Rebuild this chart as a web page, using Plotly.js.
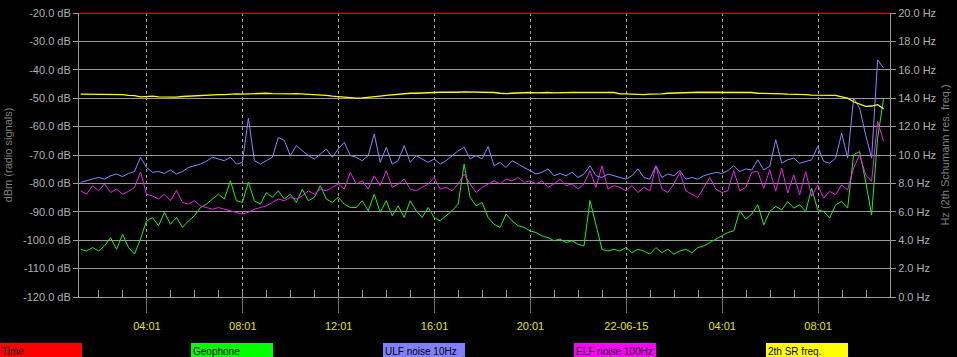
<!DOCTYPE html>
<html>
<head>
<meta charset="utf-8">
<script src="https://cdn.plot.ly/plotly-3.0.1.min.js"></script>
<style>
  html, body { margin: 0; padding: 0; background: #000; }
  #chart { width: 957px; height: 357px; }
</style>
</head>
<body>
<div id="chart"></div>
<script>
// ---------------- DATA ----------------
// Samples every 15 minutes starting 2015-06-21 01:15
const sampleStart = '2015-06-21T01:15:00Z';
const sampleStepMinutes = 15;

// Geophone (dBm)
const geophone = [
  -103.2, -103.8, -102.6, -103.8, -102, -99.1, -103.2, -97.9, -102.6, -104.9, -99.6, -93.2, -92, -94.9, -90.2, -94.4, -92, -95.5, -93.2, -91.4, -88.5, -87.3, -85.5,
  -83.8, -85.5, -79.1, -86.1, -86.7, -79.6, -86.1, -87.3, -83.2, -84.9, -82.6, -85.5, -83.8, -86.7, -82, -86.1, -84.9, -80.8, -85.5, -86.7, -84.9, -87.3, -88.5,
  -88.5, -86.1, -89.6, -83.8, -90.2, -86.1, -91.4, -87.9, -92, -86.1, -89.6, -92, -88.5, -92, -93.2, -91.4, -89.6, -87.3, -73.2, -84.9, -87.9, -86.7,
  -92, -94.4, -95.5, -90.8, -93.2, -94.9, -95.5, -96.7, -97.3, -98.5, -99.1, -100.2, -99.6, -100.8, -100.2, -101.4, -102, -86, -95, -103.2, -103.8, -103.2,
  -103.8, -102.6, -104.4, -103.2, -103.8, -104.9, -102.6, -104.4, -103.2, -104.9, -103.8, -103.2, -104.4, -102.6, -102, -100.8, -99.6, -98.5, -97.3, -96.7, -89.6, -92.6, -90.8,
  -87.5, -94.6, -89.9, -88.1, -89.3, -86.4, -88.7, -87.5, -89.9, -81.7, -89.3, -89.9, -92.2, -87.5, -86.4, -88.7, -69.9, -68.8, -79.3, -91.1, -64.1, -50
];

// ULF noise 10Hz (dBm)
const ulfNoise = [
  -79.6, -79.1, -78.5, -77.9, -78.5, -77.3, -76.7, -77.6, -76.5, -75.8, -70.8, -74.4, -76.1, -75.8, -76.5, -75.3, -76.7, -75.8, -74.4, -73.8, -73.2, -72.2, -70.8,
  -71.4, -72, -70.8, -73.2, -72.6, -57, -72, -73.2, -72, -70.8, -63.8, -64.9, -70.2, -66.7, -68.5, -70.2, -71.4, -69.6, -67.9, -70.8, -67.9, -65.5, -70.2,
  -70.8, -72, -70.2, -62.6, -72.6, -67.3, -73.2, -72, -66.7, -72.6, -70.2, -71.4, -72.6, -71.4, -73.2, -72, -70.2, -68.5, -67.3, -71.4, -70.2, -71.4,
  -67, -73.8, -72.6, -74.4, -72, -73.2, -74.4, -75.5, -76.7, -76.1, -74.9, -77.3, -76.5, -77.3, -76.1, -77.9, -76.7, -73.8, -77.3, -77.9, -76.7, -77.3,
  -77.9, -78.5, -77.3, -74.9, -77.9, -78.5, -73.8, -77.9, -76.7, -77.3, -75.5, -78.5, -77.9, -78.5, -77.3, -76.7, -76.1, -76.5, -75.5, -73.8, -75.8, -74.9, -75.3,
  -71.7, -75.2, -74, -64.6, -72.9, -71.7, -71.1, -72.9, -72.3, -71.7, -67, -72.3, -72.9, -71.1, -62.3, -71.1, -50, -53.5, -62.9, -71.1, -36.5, -39.4
];

// ELF noise 100Hz (dBm)
const elfNoise = [
  -82.6, -83.8, -80.8, -82.6, -80.2, -83.2, -82, -83.8, -82.8, -81.4, -76, -83.8, -84.4, -85.5, -83.8, -86.1, -82.4, -86.7, -87.3, -86.1, -87.9, -88.5, -89.1,
  -88.5, -89.1, -89.6, -90.2, -90.8, -90.2, -89.1, -88.5, -87.9, -86.7, -85.5, -86.1, -84.9, -85.5, -84.4, -82.6, -83.8, -82, -82.6, -81.4, -80.2, -82, -76.1,
  -80.2, -79.1, -82, -77.3, -80.8, -75.5, -81.4, -80.2, -78.5, -82, -82.6, -81.4, -80.2, -77.9, -82, -81.4, -82.6, -80.2, -76.7, -80.2, -83.2, -81.4,
  -80.2, -79.1, -80.2, -78.5, -79.1, -77.9, -79.6, -79.1, -80.2, -79.1, -81.4, -80.2, -78.5, -80.8, -80.2, -82, -80.2, -75.5, -81.4, -73.8, -82, -80.8,
  -81.4, -82.6, -80.8, -83.2, -81.4, -82.6, -73.8, -82, -83.2, -80.2, -76.1, -82.6, -83.8, -85, -81.4, -77.9, -82, -83.2, -82.6, -75.5, -82.6, -81.4, -76.1,
  -75.8, -81.7, -75.2, -82.8, -74.6, -83.4, -77, -84, -75.8, -84.6, -80.5, -85.2, -82.8, -84, -80.5, -82.3, -74.6, -69.9, -77, -79.3, -58.2, -65.2
];

// 2th SR freq. (Hz)
const srFreq = [
  14.28, 14.28, 14.3, 14.28, 14.3, 14.3, 14.25, 14.25, 14.2, 14.18,
  14.1, 14.12, 14.15, 14.1, 14.08, 14.05, 14.08, 14.12, 14.15, 14.15,
  14.2, 14.22, 14.22, 14.25, 14.25, 14.28, 14.3, 14.28, 14.3, 14.3,
  14.35, 14.35, 14.32, 14.3, 14.3, 14.3, 14.32, 14.3, 14.3, 14.28,
  14.25, 14.2, 14.15, 14.1, 14.05, 14.02,
  14.0, 14.02, 14.05, 14.1, 14.15, 14.2, 14.25, 14.3, 14.32, 14.35,
  14.35, 14.38, 14.4, 14.4, 14.42, 14.42, 14.4, 14.42, 14.45, 14.45, 14.45, 14.45,
  14.4, 14.4, 14.35, 14.32, 14.35, 14.38, 14.4, 14.4, 14.38, 14.4, 14.4, 14.38, 14.4, 14.42, 14.4, 14.4, 14.38, 14.4, 14.4, 14.38, 14.4, 14.4,
  14.3, 14.3, 14.28, 14.28, 14.25, 14.28, 14.28, 14.3, 14.35, 14.35, 14.38, 14.38, 14.4, 14.42, 14.42, 14.42, 14.4, 14.4, 14.4, 14.42, 14.42, 14.4, 14.4,
  14.35, 14.35, 14.32, 14.3, 14.3, 14.28, 14.28, 14.25, 14.25, 14.22, 14.22, 14.2, 14.2, 14.2, 14.1, 14.0, 13.75, 13.6, 13.42, 13.45, 13.55, 13.25
];

// Time reference line (top of chart)
const timeX = ['2015-06-21 01:11', '2015-06-22 11:01'];
const timeLevel = [-20, -20];

// Axes
const xRange = ['2015-06-21 01:11', '2015-06-22 11:01'];
const xTickVals = ['2015-06-21 04:01', '2015-06-21 08:01', '2015-06-21 12:01', '2015-06-21 16:01',
                   '2015-06-21 20:01', '2015-06-22 00:01', '2015-06-22 04:01', '2015-06-22 08:01'];
const xTickText = ['04:01', '08:01', '12:01', '16:01', '20:01', '22-06-15', '04:01', '08:01'];
const dbTicks = [-20, -30, -40, -50, -60, -70, -80, -90, -100, -110, -120];
const hzTicks = [20, 18, 16, 14, 12, 10, 8, 6, 4, 2, 0];

const legendNames = ['Time', 'Geophone', 'ULF noise 10Hz', 'ELF noise 100Hz', '2th SR freq.'];
const legendColors = ['#ff0000', '#00ff00', '#8080ff', '#ff00ff', '#ffff00'];

// ---------------- BUILD ----------------
const t0 = Date.parse(sampleStart);
const times = geophone.map((_, i) => {
  const d = new Date(t0 + i * sampleStepMinutes * 60000);
  return d.toISOString().slice(0, 16).replace('T', ' ');
});

const W = 957, H = 357, ML = 79, MR = 67, MT = 13, MB = 60;
const plotW = W - ML - MR, plotH = H - MT - MB;
const pxX = px => (px - ML) / plotW;
const pxY = py => (H - MB - py) / plotH;

const lineColors = { geo: '#22ee22', ulf: '#8888ff', elf: '#ee22ee', sr: '#ffff00', time: '#ee0000' };

const traces = [
  { x: timeX, y: timeLevel, type: 'scatter', mode: 'lines', line: { color: lineColors.time, width: 2 }, name: 'Time', hoverinfo: 'skip' },
  { x: times, y: geophone, type: 'scatter', mode: 'lines', line: { color: lineColors.geo, width: 1 }, name: 'Geophone' },
  { x: times, y: ulfNoise, type: 'scatter', mode: 'lines', line: { color: lineColors.ulf, width: 1 }, name: 'ULF noise 10Hz' },
  { x: times, y: elfNoise, type: 'scatter', mode: 'lines', line: { color: lineColors.elf, width: 1 }, name: 'ELF noise 100Hz' },
  { x: times, y: srFreq, yaxis: 'y2', type: 'scatter', mode: 'lines', line: { color: lineColors.sr, width: 1.3 }, name: '2th SR freq.' }
];

const grey = '#9a9a9a';
const labelGrey = '#b0b0b0';
const fontFam = 'Arial, "Liberation Sans", sans-serif';

const shapes = [];
const annotations = [];
legendNames.forEach((name, i) => {
  const x0 = Math.round(i * W / 5);
  shapes.push({
    type: 'rect', xref: 'paper', yref: 'paper',
    x0: pxX(x0), x1: pxX(x0 + 82), y0: pxY(357), y1: pxY(343),
    fillcolor: legendColors[i], line: { width: 0 }, layer: 'above'
  });
  annotations.push({
    xref: 'paper', yref: 'paper', x: pxX(x0), y: pxY(351),
    xanchor: 'left', yanchor: 'middle', showarrow: false, text: name,
    font: { family: fontFam, size: 10, color: '#000000' }
  });
});

const layout = {
  width: W, height: H,
  margin: { l: ML, r: MR, t: MT, b: MB, pad: 0 },
  paper_bgcolor: '#000000', plot_bgcolor: '#000000',
  showlegend: false,
  font: { family: fontFam, size: 11, color: labelGrey },
  xaxis: {
    type: 'date', range: xRange,
    tickmode: 'array', tickvals: xTickVals, ticktext: xTickText,
    tickfont: { color: '#e6e600', size: 11 },
    showgrid: true, gridcolor: '#a0a0a0', griddash: '3px,3px', gridwidth: 1,
    ticks: 'outside', ticklen: 15, tickcolor: '#707070', tickwidth: 1,
    ticklabelstandoff: 4,
    showline: true, linecolor: grey, linewidth: 1,
    zeroline: false, fixedrange: true,
    minor: { tickmode: 'linear', tick0: '2015-06-21 00:01', dtick: 3600000, ticks: 'inside', ticklen: 7, tickcolor: grey, tickwidth: 1, showgrid: false }
  },
  yaxis: {
    range: [-120, -20],
    tickmode: 'array', tickvals: dbTicks, ticktext: dbTicks.map(v => v.toFixed(1) + ' dB'),
    showgrid: true, gridcolor: grey, gridwidth: 1,
    ticks: 'outside', ticklen: 5, tickcolor: grey,
    showline: true, linecolor: grey, linewidth: 1,
    zeroline: false,
    title: { text: 'dBm (radio signals)', font: { size: 11, color: '#808080' }, standoff: 8 }
  },
  yaxis2: {
    range: [0, 20], overlaying: 'y', side: 'right',
    tickmode: 'array', tickvals: hzTicks, ticktext: hzTicks.map(v => v.toFixed(1) + ' Hz'),
    showgrid: false,
    ticks: 'outside', ticklen: 5, tickcolor: grey,
    showline: true, linecolor: grey, linewidth: 1,
    zeroline: false,
    title: { text: 'Hz (2th Schumann res. freq.)', font: { size: 11, color: '#808080' }, standoff: 6 }
  },
  shapes: shapes,
  annotations: annotations
};

Plotly.newPlot('chart', traces, layout, { displayModeBar: false, staticPlot: true });
</script>
</body>
</html>
